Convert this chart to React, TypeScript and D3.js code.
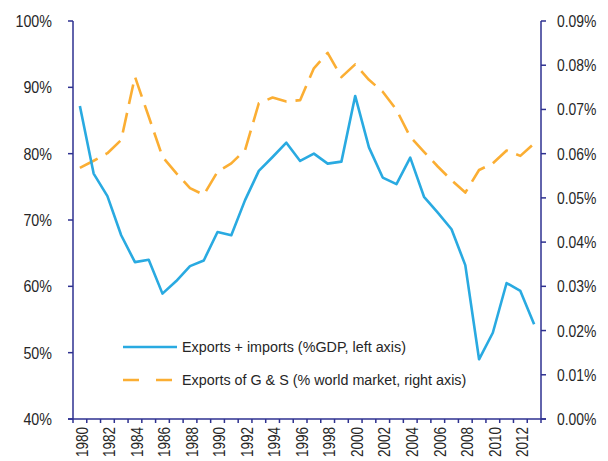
import React from "react";
import * as d3 from "d3";

const years = d3.range(1980, 2014).map(String);

const tradeGDP = [87.2, 77.0, 73.6, 67.7, 63.65, 64.0, 58.9, 60.8, 63.05, 63.9, 68.2, 67.7, 73.0, 77.4, 79.5, 81.65, 78.9, 80.0, 78.5, 78.8, 88.7, 80.95, 76.4, 75.4, 79.4, 73.5, 71.1, 68.6, 63.2, 49.0, 53.0, 60.5, 59.3, 54.3];

const worldShare = [0.0568, 0.0584, 0.0601, 0.0631, 0.0774, 0.0684, 0.0593, 0.0556, 0.0522, 0.0507, 0.0559, 0.0578, 0.0608, 0.0714, 0.0727, 0.0718, 0.0721, 0.0793, 0.0828, 0.0773, 0.0802, 0.0767, 0.074, 0.0699, 0.0638, 0.0604, 0.0571, 0.054, 0.0512, 0.0563, 0.0578, 0.0607, 0.0595, 0.0623];

const leftTicks = [40, 50, 60, 70, 80, 90, 100];
const rightTicks = [0, 0.01, 0.02, 0.03, 0.04, 0.05, 0.06, 0.07, 0.08, 0.09];

const legendLabels = [
  "Exports + imports (%GDP, left axis)",
  "Exports of G & S (% world market, right axis)",
];

const W = 608;
const H = 461;
const plotLeft = 73;
const plotRight = 541;
const plotTop = 21;
const plotBottom = 419;

const AXIS = "#2E3190";
const BLUE = "#29AAE1";
const ORANGE = "#FBAE33";
const TEXT = "#262626";
const FONT = "'Liberation Sans', Arial, sans-serif";
const NARROW = 0.84;
const LEGEND_NARROW = 0.925;

export default function App() {
  const x = d3.scaleBand<string>().domain(years).range([plotLeft, plotRight]);
  const yL = d3.scaleLinear().domain([40, 100]).range([plotBottom, plotTop]);
  const yR = d3.scaleLinear().domain([0, 0.09]).range([plotBottom, plotTop]);
  const cx = (y: string) => (x(y) as number) + x.bandwidth() / 2;

  const lineL = d3
    .line<number>()
    .x((_, i) => cx(years[i]))
    .y((d) => yL(d));
  const lineR = d3
    .line<number>()
    .x((_, i) => cx(years[i]))
    .y((d) => yR(d));

  const bounds = years.map((y) => x(y) as number).concat([plotRight]);

  return (
    <svg
      width={W}
      height={H}
      style={{ position: "absolute", left: 0, top: 0, background: "#fff" }}
      fontFamily={FONT}
    >
      {/* series */}
      <path d={lineR(worldShare) || ""} fill="none" stroke={ORANGE} strokeWidth={2.6} strokeDasharray="20 9" strokeLinejoin="round" />
      <path d={lineL(tradeGDP) || ""} fill="none" stroke={BLUE} strokeWidth={2.6} strokeLinejoin="round" />

      {/* left axis */}
      <line x1={plotLeft} x2={plotLeft} y1={plotTop} y2={plotBottom} stroke={AXIS} strokeWidth={1.5} />
      {leftTicks.map((t) => (
        <g key={"l" + t}>
          <line x1={plotLeft - 5} x2={plotLeft} y1={yL(t)} y2={yL(t)} stroke={AXIS} strokeWidth={1.5} />
          <text
            transform={`translate(52,${yL(t)}) scale(${NARROW},1)`}
            dy="0.35em"
            textAnchor="end"
            fontSize={17}
            fill={TEXT}
          >
            {t}%
          </text>
        </g>
      ))}

      {/* right axis */}
      <line x1={plotRight} x2={plotRight} y1={plotTop} y2={plotBottom} stroke={AXIS} strokeWidth={1.5} />
      {rightTicks.map((t) => (
        <g key={"r" + t}>
          <line x1={plotRight} x2={plotRight + 5} y1={yR(t)} y2={yR(t)} stroke={AXIS} strokeWidth={1.5} />
          <text
            transform={`translate(557,${yR(t)}) scale(0.82,1)`}
            dy="0.35em"
            textAnchor="start"
            fontSize={17}
            fill={TEXT}
          >
            {t.toFixed(2)}%
          </text>
        </g>
      ))}

      {/* bottom axis */}
      <line x1={plotLeft - 5} x2={plotRight + 5} y1={plotBottom} y2={plotBottom} stroke={AXIS} strokeWidth={1.5} />
      {bounds.map((b, i) => (
        <line key={"b" + i} x1={b} x2={b} y1={plotBottom} y2={plotBottom + 4} stroke={AXIS} strokeWidth={1.5} />
      ))}
      {years.map((y, i) =>
        i % 2 === 0 ? (
          <text
            key={"y" + y}
            transform={`translate(${cx(y) + 2},${plotBottom + 8}) rotate(-90) scale(0.82,1)`}
            dy="0.35em"
            textAnchor="end"
            fontSize={16.5}
            fill={TEXT}
          >
            {y}
          </text>
        ) : null
      )}

      {/* legend */}
      <line x1={123} x2={177} y1={347} y2={347} stroke={BLUE} strokeWidth={2.6} />
      <text transform={`translate(182,347) scale(${LEGEND_NARROW},1)`} dy="0.35em" fontSize={15.5} fill={TEXT}>
        {legendLabels[0]}
      </text>
      <line x1={123} x2={172} y1={380} y2={380} stroke={ORANGE} strokeWidth={2.6} strokeDasharray="16 17" />
      <text transform={`translate(182,380) scale(${LEGEND_NARROW},1)`} dy="0.35em" fontSize={15.5} fill={TEXT}>
        {legendLabels[1]}
      </text>
    </svg>
  );
}
